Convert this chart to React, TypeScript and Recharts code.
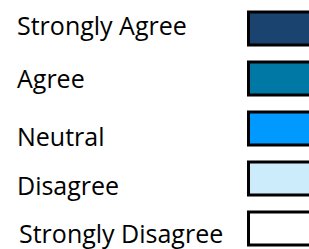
import { BarChart, Bar, XAxis, YAxis, Cell } from 'recharts';

const categories = ['Strongly Agree', 'Agree', 'Neutral', 'Disagree', 'Strongly Disagree'];
const boxValues = [1, 1, 1, 1, 1];
const boxColors = ['#1b436f', '#0078a6', '#0099ff', '#ccecfc', '#ffffff'];

// small per-row nudges so the labels sit where the original has them
const LABEL_DX = [17, 17, 17, 17, 19];
const LABEL_DY = [7, 10, 18, 17, 15];

const data = categories.map((name, i) => ({ name, value: boxValues[i] }));

function LabelTick(props: any) {
  const { y, payload, index } = props;
  return (
    <text
      x={LABEL_DX[index]}
      y={y + LABEL_DY[index]}
      textAnchor="start"
      fill="#000"
      fontFamily="'Open Sans', sans-serif"
      fontSize={25}
    >
      {payload.value}
    </text>
  );
}

// box that runs off the right edge: no stroke on its right side
function OpenBox(props: any) {
  const { x, y, width, height, fill } = props;
  const r = x + width + 4;
  return (
    <g>
      <rect x={x} y={y} width={width + 4} height={height} fill={fill} />
      <path
        d={`M${r},${y}L${x},${y}L${x},${y + height}L${r},${y + height}`}
        fill="none"
        stroke="#000"
        strokeWidth={3}
      />
    </g>
  );
}

export default function App() {
  return (
    <div style={{ position: 'absolute', left: 0, top: 0, width: 309, height: 249, overflow: 'hidden', background: '#fff' }}>
      <BarChart
        width={309}
        height={256}
        data={data}
        layout="vertical"
        margin={{ top: 3, right: 0, bottom: 3, left: 0 }}
      >
        <XAxis type="number" domain={[0, 1]} hide />
        <YAxis
          type="category"
          dataKey="name"
          width={248.5}
          interval={0}
          axisLine={false}
          tickLine={false}
          tick={<LabelTick />}
        />
        <Bar dataKey="value" barSize={33} shape={<OpenBox />} isAnimationActive={false}>
          {data.map((d, i) => (
            <Cell key={d.name} fill={boxColors[i]} />
          ))}
        </Bar>
      </BarChart>
    </div>
  );
}
